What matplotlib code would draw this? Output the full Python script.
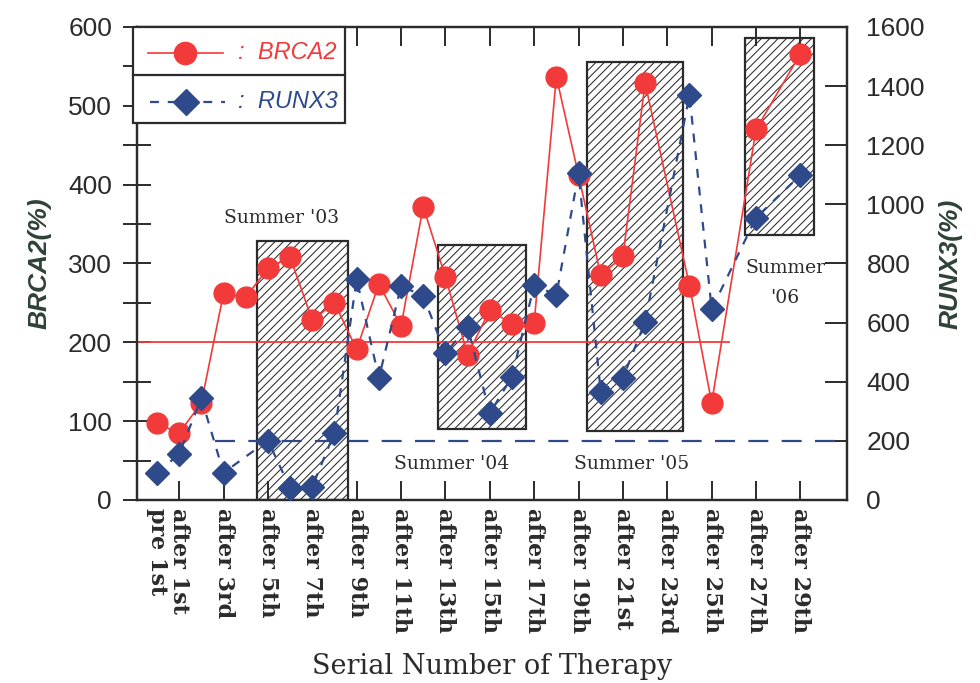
import matplotlib
matplotlib.use("Agg")
import matplotlib.pyplot as plt
from matplotlib.patches import Rectangle
from matplotlib.lines import Line2D

# therapy index: 0 = pre 1st, k = after k-th course
brca2_idx = [0, 1, 2, 3, 4, 5, 6, 7, 8, 9, 10, 11, 12, 13, 14, 15, 16, 17, 18, 19,
             20, 21, 22, 24, 25, 27, 29]
brca2_val = [97, 85, 123, 262, 257, 294, 308, 228, 250, 191, 274, 221, 372, 283, 184,
             241, 223, 225, 537, 412, 285, 309, 529, 272, 123, 470, 566]
runx3_idx = [0, 1, 2, 3, 5, 6, 7, 8, 9, 10, 11, 12, 13, 14, 15, 16, 17, 18, 19,
             20, 21, 22, 24, 25, 27, 29]
runx3_val = [90, 156, 344, 92, 201, 40, 45, 228, 747, 412, 724, 690, 496, 586, 293,
             417, 727, 693, 1105, 366, 412, 603, 1370, 645, 955, 1099]

brca2_ref = 200   # left axis cutoff
runx3_ref = 200   # right axis cutoff

tick_idx = [1, 3, 5, 7, 9, 11, 13, 15, 17, 19, 21, 23, 25, 27, 29]
tick_labels = ["after 1st", "after 3rd", "after 5th", "after 7th", "after 9th",
               "after 11th", "after 13th", "after 15th", "after 17th", "after 19th",
               "after 21st", "after 23rd", "after 25th", "after 27th", "after 29th"]

# summer windows: x from, x to, y from, y to (left-axis units)
summer_x0 = [4.5, 12.67, 19.4, 26.5]
summer_x1 = [8.6, 16.65, 23.7, 29.6]
summer_y0 = [0, 90, 88, 336]
summer_y1 = [328, 324, 556, 586]

RED = "#f23a3a"
BLUE = "#2f4a8a"
INK = "#2b2b2b"
LBL = "#2f4237"

plt.rcParams["font.family"] = ["Liberation Sans", "DejaVu Sans"]
plt.rcParams["hatch.color"] = "#7a7a7a"
plt.rcParams["hatch.linewidth"] = 0.75

fig = plt.figure(figsize=(9.8, 6.83), dpi=100)
ax = fig.add_axes([0.1398, 0.268, 0.7245, 0.6925])
ax2 = ax.twinx()

ax.set_xlim(-0.9, 31.1)
ax.set_ylim(0, 600)
ax2.set_ylim(0, 1600)

for x0, x1, y0, y1 in zip(summer_x0, summer_x1, summer_y0, summer_y1):
    ax.add_patch(Rectangle((x0, y0), x1 - x0, y1 - y0, facecolor="white",
                           edgecolor=INK, hatch="////", lw=1.6, zorder=1))

ax.plot([-0.9, 25.8], [brca2_ref, brca2_ref], color=RED, lw=1.3, zorder=2)
ax.plot(brca2_idx, brca2_val, color=RED, lw=1.2, marker="o", ms=15,
        mfc=RED, mec=RED, zorder=3)

ax2.plot([2.6, 31.1], [runx3_ref, runx3_ref], color=BLUE, lw=1.6,
         dashes=(9, 6), zorder=2)
ax2.plot(runx3_idx, runx3_val, color=BLUE, lw=1.6, dashes=(4, 4), marker="D",
         ms=12.5, mfc=BLUE, mec=BLUE, zorder=3)

# summer labels
tfont = dict(family="DejaVu Serif", fontsize=13.5, color=INK, ha="center", va="center")
ax.text(5.6, 358, "Summer '03", **tfont)
ax.text(13.3, 46, "Summer '04", **tfont)
ax.text(21.4, 46, "Summer '05", **tfont)
ax.text(28.3, 275, "Summer\n'06", linespacing=1.9, **tfont)

# x axis
xl = dict(rotation=-90, family="DejaVu Serif", fontweight="bold", fontsize=16,
          color=INK)
ax.set_xticks(tick_idx)
ax.set_xticklabels(tick_labels, **xl)
ax.set_xticks([0], minor=True)
ax.set_xticklabels(["pre 1st"], minor=True, **xl)
ax.tick_params(axis="x", which="major", direction="in", length=14, width=1.4,
               top=True, pad=6, colors=INK)
ax.tick_params(axis="x", which="minor", length=0, pad=6)
ax.set_xlabel("Serial Number of Therapy", family="DejaVu Serif", fontsize=19.5,
              color=INK, labelpad=14)

# left axis
ax.set_yticks(range(0, 601, 100))
ax.set_yticks(range(50, 600, 100), minor=True)
ax.tick_params(axis="y", which="both", direction="inout", length=20, width=1.4,
               labelsize=19, pad=8, colors=INK)
ax.set_ylabel("BRCA2(%)", fontsize=19, fontstyle="italic", fontweight="bold",
              family=["Liberation Sans Narrow", "Liberation Sans"], color=LBL,
              labelpad=12)

# right axis
ax2.set_yticks(range(0, 1601, 200))
ax2.tick_params(axis="y", direction="in", length=16, width=1.4, labelsize=19,
                pad=14, colors=INK)
ax2.set_ylabel("RUNX3(%)", fontsize=19, fontstyle="italic", fontweight="bold",
               family=["Liberation Sans Narrow", "Liberation Sans"], color=LBL,
               rotation=90, labelpad=10)

for a in (ax, ax2):
    for s in a.spines.values():
        s.set_linewidth(1.6)
        s.set_color(INK)

# boxed legend with a row divider
tr = ax2.transAxes
ax2.add_patch(Rectangle((-0.006, 0.797), 0.299, 0.203, transform=tr, facecolor="white",
                        edgecolor=INK, lw=1.6, zorder=5, clip_on=False))
ax2.add_line(Line2D([-0.006, 0.293], [0.8985, 0.8985], transform=tr, color=INK,
                    lw=1.6, zorder=6, clip_on=False))
ax2.add_line(Line2D([0.0155, 0.121], [0.9457, 0.9457], transform=tr, color=RED, lw=1.2,
                    zorder=6))
ax2.add_line(Line2D([0.0677], [0.9457], transform=tr, marker="o", ms=16, color=RED,
                    zorder=7))
ax2.add_line(Line2D([0.018, 0.124], [0.842, 0.842], transform=tr, color=BLUE, lw=1.6,
                    dashes=(4, 4), zorder=6))
ax2.add_line(Line2D([0.0692], [0.842], transform=tr, marker="D", ms=13.5, color=BLUE,
                    zorder=7))
lfont = dict(transform=tr, fontsize=17, fontstyle="italic", va="center", zorder=7,
             family=["Liberation Sans Narrow", "Liberation Sans"])
ax2.text(0.142, 0.9457, ":  BRCA2", color=RED, **lfont)
ax2.text(0.142, 0.842, ":  RUNX3", color=BLUE, **lfont)

fig.savefig("out.png", dpi=100)
